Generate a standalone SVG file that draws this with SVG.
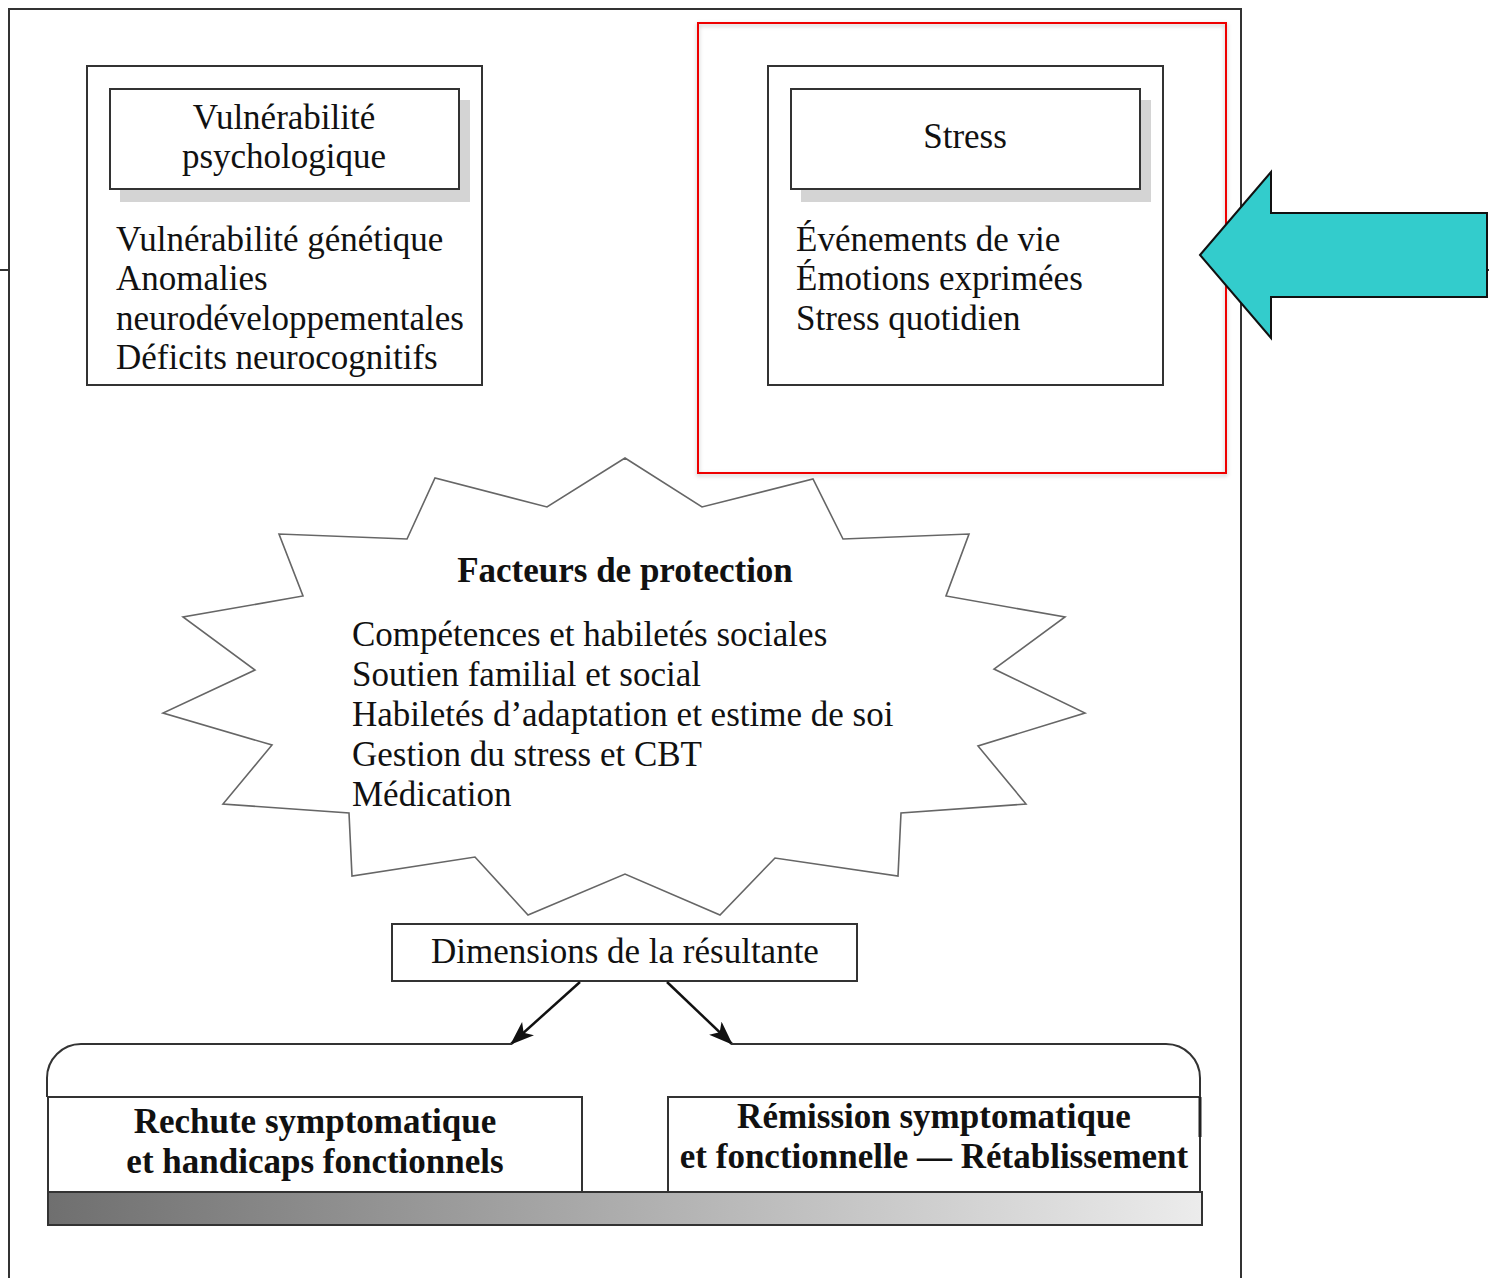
<svg xmlns="http://www.w3.org/2000/svg" width="1489" height="1278" viewBox="0 0 1489 1278">
<defs>
<style>
.t{font-family:"Liberation Serif","Times New Roman",serif;font-size:35px;fill:#111}
.b{font-weight:bold}
.c{text-anchor:middle}
.box{fill:#fff;stroke:#333;stroke-width:2}
.shadow{fill:#d4d4d4}
.frame{stroke:#333;stroke-width:2;fill:none}
.conn{stroke:#111;stroke-width:2.5;fill:none}
</style>
<marker id="ah" markerWidth="24" markerHeight="18" refX="23" refY="9" orient="auto" markerUnits="userSpaceOnUse" viewBox="0 0 24 18">
<path d="M0,0 L24,9 L0,18 L6,9 Z" fill="#111"/>
</marker>
<linearGradient id="grad" x1="0" y1="0" x2="1" y2="0">
<stop offset="0" stop-color="#6f6f6f"/>
<stop offset="1" stop-color="#ececec"/>
</linearGradient>
<filter id="ds" x="-5%" y="-5%" width="110%" height="110%">
<feDropShadow dx="0" dy="2" stdDeviation="2" flood-color="#000" flood-opacity="0.25"/>
</filter>
</defs>
<rect width="1489" height="1278" fill="#fff"/>
<g id="frame">
<path class="frame" d="M9,1278 V9 H1241 V1278"/>
<line class="frame" x1="0" y1="270" x2="9" y2="270"/>
<line class="frame" x1="1486" y1="270" x2="1489" y2="270"/>
</g>
<g id="red-highlight">
<rect x="698" y="23" width="528" height="450" fill="none" stroke="#e00" stroke-width="2" filter="url(#ds)"/>
</g>
<g id="vulnerabilite">
<rect class="box" x="87" y="66" width="395" height="319"/>
<rect class="shadow" x="120" y="100" width="350" height="102"/>
<rect class="box" x="110" y="89" width="349" height="100"/>
<text class="t c" x="284" y="129">Vulnérabilité</text>
<text class="t c" x="284" y="168">psychologique</text>
<text class="t" x="116" y="251">Vulnérabilité génétique</text>
<text class="t" x="116" y="290">Anomalies</text>
<text class="t" x="116" y="330">neurodéveloppementales</text>
<text class="t" x="116" y="369">Déficits neurocognitifs</text>
</g>
<g id="stress">
<rect class="box" x="768" y="66" width="395" height="319"/>
<rect class="shadow" x="801" y="100" width="350" height="102"/>
<rect class="box" x="791" y="89" width="349" height="100"/>
<text class="t c" x="965" y="148">Stress</text>
<text class="t" x="796" y="251">Événements de vie</text>
<text class="t" x="796" y="290">Émotions exprimées</text>
<text class="t" x="796" y="330">Stress quotidien</text>
</g>
<g id="pointer-arrow">
<polygon points="1200,255 1271,172 1271,213 1487,213 1487,297 1271,297 1271,338" fill="#33cccc" stroke="#111" stroke-width="2" stroke-linejoin="miter"/>
</g>
<g id="protection">
<polygon points="625,458 702,507 813,479 843,539 969,534 946,596 1065,617 994,669 1085,713 978,746 1026,804 901,813 898,876 775,858 720,915 625,874 528,915 475,857 352,876 349,813 223,804 272,745 163,713 255,670 183,617 303,596 279,534 407,539 435,478 547,507" fill="#fff" stroke="#666" stroke-width="1.6"/>
<text class="t b c" x="625" y="582">Facteurs de protection</text>
<text class="t" x="352" y="646">Compétences et habiletés sociales</text>
<text class="t" x="352" y="686">Soutien familial et social</text>
<text class="t" x="352" y="726">Habiletés d’adaptation et estime de soi</text>
<text class="t" x="352" y="766">Gestion du stress et CBT</text>
<text class="t" x="352" y="806">Médication</text>
</g>
<g id="dimensions">
<rect class="box" x="392" y="924" width="465" height="57"/>
<text class="t c" x="625" y="963">Dimensions de la résultante</text>
</g>
<g id="connectors">
<line class="conn" x1="580" y1="982" x2="511" y2="1044" marker-end="url(#ah)"/>
<line class="conn" x1="667" y1="982" x2="732" y2="1044" marker-end="url(#ah)"/>
<path class="frame" d="M512,1044 H81 A34,34 0 0 0 47,1078 V1097"/>
<path class="frame" d="M731,1044 H1166 A34,34 0 0 1 1200,1078 V1097"/>
</g>
<g id="rechute">
<rect class="box" x="48" y="1097" width="534" height="95"/>
<text class="t b c" x="315" y="1133">Rechute symptomatique</text>
<text class="t b c" x="315" y="1173">et handicaps fonctionnels</text>
</g>
<g id="remission">
<rect class="box" x="668" y="1097" width="532" height="95"/>
<line x1="1200" y1="1097" x2="1200" y2="1137" stroke="#222" stroke-width="3"/>
<text class="t b c" x="934" y="1128">Rémission symptomatique</text>
<text class="t b c" x="934" y="1168">et fonctionnelle — Rétablissement</text>
</g>
<g id="gradient-bar">
<rect x="48" y="1192" width="1154" height="33" fill="url(#grad)" stroke="#333" stroke-width="2"/>
</g>
</svg>
